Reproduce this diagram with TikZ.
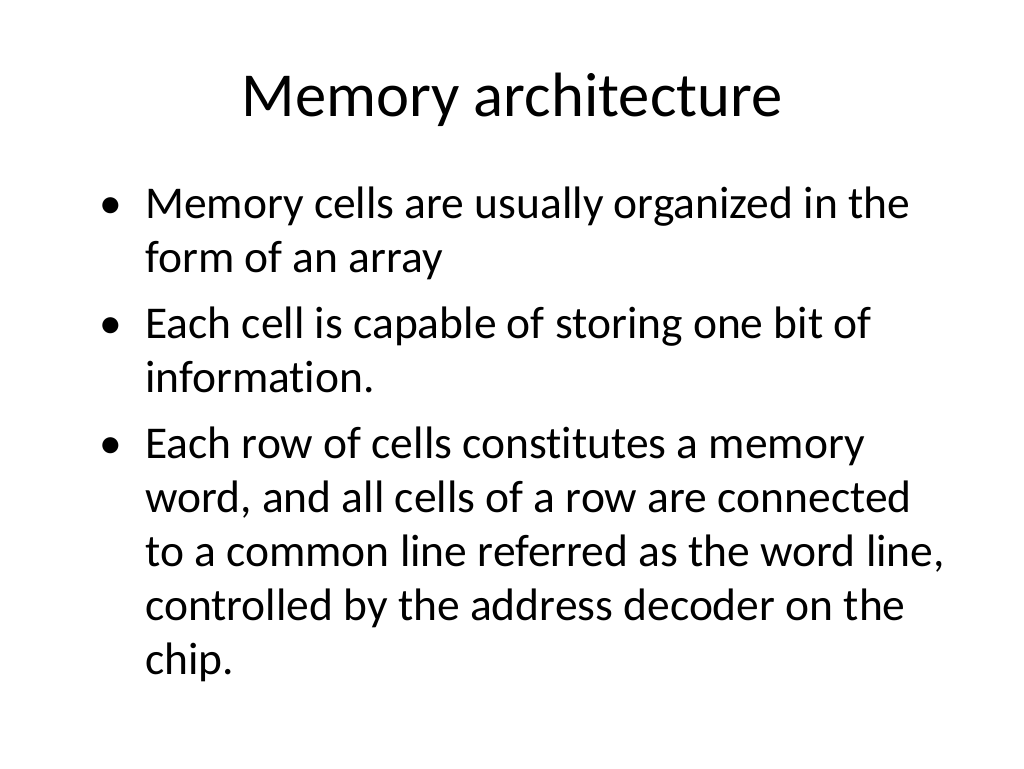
\documentclass[tikz,border=0pt]{standalone}
\usepackage{fontspec}
\setmainfont{Carlito}[Ligatures=NoCommon]
\begin{document}
\begin{tikzpicture}[x=1pt,y=-1pt,
  titletext/.style={anchor=base,inner sep=0pt,font=\fontsize{62.6}{75}\selectfont},
  bodyline/.style={anchor=base west,inner sep=0pt,font=\fontsize{45.5}{54}\selectfont},
  bulletmark/.style={anchor=base west,inner sep=0pt,font=\fontsize{45.5}{54}\selectfont}]
\useasboundingbox[fill=white] (0,0) rectangle (1024,768);
\node[titletext] (title) at (512,116) {Memory architecture};
\node[bulletmark] (b1) at (99,218) {•};
\node[bodyline] (l1) at (145,218) {Memory cells are usually organized in the};
\node[bodyline] (l2) at (145,272) {form of an array};
\node[bulletmark] (b2) at (99,338) {•};
\node[bodyline] (l3) at (145,338) {Each cell is capable of storing one bit of};
\node[bodyline] (l4) at (145,392) {information.};
\node[bulletmark] (b3) at (99,458) {•};
\node[bodyline] (l5) at (145,458) {Each row of cells constitutes a memory};
\node[bodyline] (l6) at (145,512) {word, and all cells of a row are connected};
\node[bodyline] (l7) at (145,566) {to a common line referred as the word line,};
\node[bodyline] (l8) at (145,620) {controlled by the address decoder on the};
\node[bodyline] (l9) at (145,674) {chip.};
\end{tikzpicture}
\end{document}
